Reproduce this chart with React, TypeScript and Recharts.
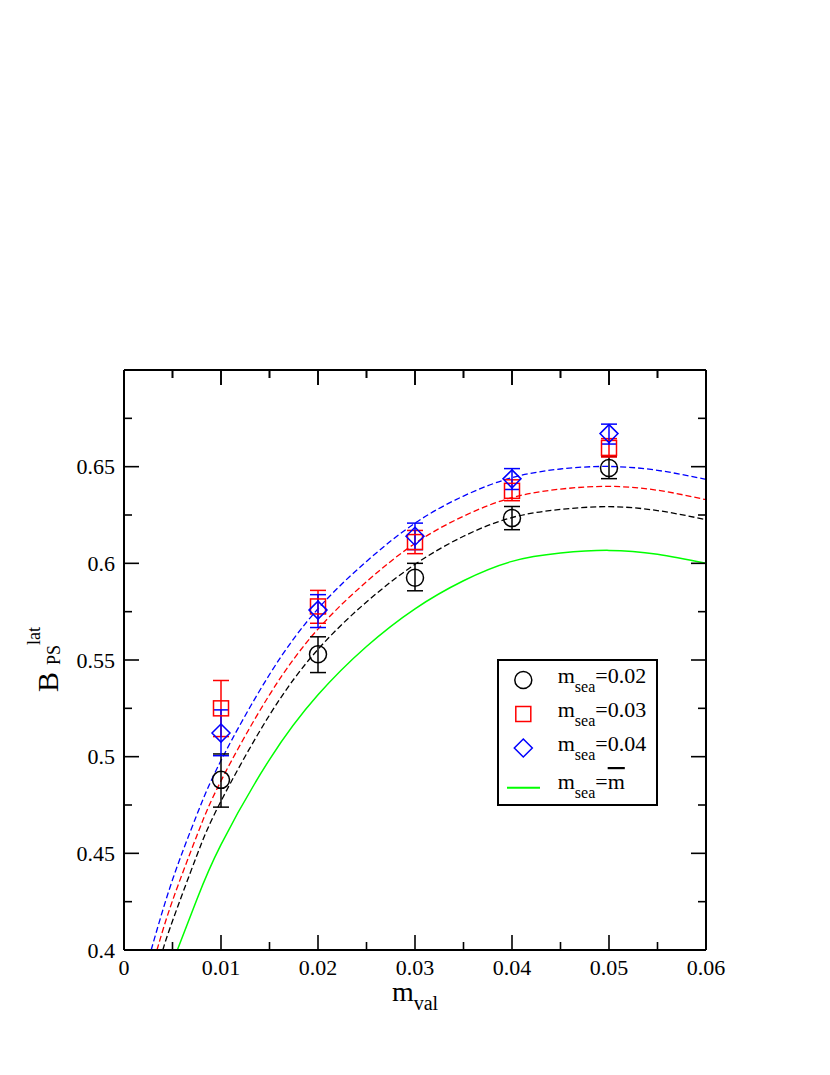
import React from 'react';
import { ComposedChart, Line, Scatter, XAxis, YAxis, ErrorBar, Legend, Label } from 'recharts';

const FONT = '"Liberation Serif", "Times New Roman", Times, serif';

// ---- layout constants (plot frame) ----
const PLOT_TOP = 370;
const PLOT_LEFT = 124;
const PLOT_W = 582;
const X_DOMAIN: [number, number] = [0, 0.06];
const Y_DOMAIN: [number, number] = [0.4, 0.7];

// ---- ticks ----
const xTicks = [0, 0.005, 0.01, 0.015, 0.02, 0.025, 0.03, 0.035, 0.04, 0.045, 0.05, 0.055, 0.06];
const xTickLabels = ['0', '', '0.01', '', '0.02', '', '0.03', '', '0.04', '', '0.05', '', '0.06'];
const yTicks = [0.4, 0.425, 0.45, 0.475, 0.5, 0.525, 0.55, 0.575, 0.6, 0.625, 0.65, 0.675, 0.7];
const yTickLabels = ['0.4', '', '0.45', '', '0.5', '', '0.55', '', '0.6', '', '0.65', '', ''];

// ---- data points ----
const mVal = [0.01, 0.02, 0.03, 0.04, 0.05];

const sea002 = [0.488, 0.553, 0.5925, 0.6234, 0.6493];
const sea002ErrLo = [0.0141, 0.0095, 0.0067, 0.006, 0.0055];
const sea002ErrHi = [0.0134, 0.009, 0.0075, 0.006, 0.006];

const sea003 = [0.525, 0.5777, 0.611, 0.6375, 0.6597];
const sea003ErrLo = [0.0146, 0.0087, 0.006, 0.0051, 0.0047];
const sea003ErrHi = [0.0144, 0.0083, 0.006, 0.0057, 0.0048];

const sea004 = [0.5122, 0.5758, 0.614, 0.6437, 0.6671];
const sea004ErrLo = [0.0117, 0.009, 0.0069, 0.0055, 0.0054];
const sea004ErrHi = [0.012, 0.008, 0.0068, 0.0053, 0.0049];

// ---- fit curves ----
const fitX002 = [0.004, 0.005, 0.0075, 0.01, 0.015, 0.02, 0.025, 0.03, 0.035, 0.04, 0.045, 0.05, 0.055, 0.06];
const fitY002 = [0.4, 0.415, 0.4488, 0.477, 0.5215, 0.5555, 0.58, 0.5995, 0.614, 0.6237, 0.6279, 0.6293, 0.6273, 0.6226];

const fitX003 = [0.0034, 0.005, 0.0075, 0.01, 0.015, 0.02, 0.025, 0.03, 0.035, 0.04, 0.045, 0.05, 0.055, 0.06];
const fitY003 = [0.4, 0.4255, 0.459, 0.4875, 0.532, 0.566, 0.5905, 0.6103, 0.6244, 0.634, 0.6384, 0.6398, 0.6378, 0.6329];

const fitX004 = [0.0028, 0.005, 0.0075, 0.01, 0.015, 0.02, 0.025, 0.03, 0.035, 0.04, 0.045, 0.05, 0.055, 0.06];
const fitY004 = [0.4, 0.4363, 0.4698, 0.498, 0.5425, 0.5765, 0.601, 0.6208, 0.6348, 0.6443, 0.6488, 0.6501, 0.6481, 0.6434];

const fitXbar = [0.0055, 0.0075, 0.01, 0.015, 0.02, 0.025, 0.03, 0.035, 0.04, 0.045, 0.05, 0.055, 0.06];
const fitYbar = [0.4, 0.426, 0.4545, 0.4985, 0.532, 0.557, 0.5765, 0.591, 0.601, 0.6053, 0.6067, 0.6047, 0.6];

const seaLabels = ['0.02', '0.03', '0.04'];

const BLACK = '#000000';
const RED = '#ff0000';
const BLUE = '#0000ff';
const GREEN = '#00ff00';

const toPts = (ys: number[], lo: number[], hi: number[]) =>
  mVal.map((x, i) => ({ x, y: ys[i], err: [lo[i], hi[i]] }));
const toCurve = (xs: number[], ys: number[]) => xs.map((x, i) => ({ x, y: ys[i] }));

const pts002 = toPts(sea002, sea002ErrLo, sea002ErrHi);
const pts003 = toPts(sea003, sea003ErrLo, sea003ErrHi);
const pts004 = toPts(sea004, sea004ErrLo, sea004ErrHi);
const curve002 = toCurve(fitX002, fitY002);
const curve003 = toCurve(fitX003, fitY003);
const curve004 = toCurve(fitX004, fitY004);
const curveBar = toCurve(fitXbar, fitYbar);

// ---- symbols ----
const CircleSym = (cx: number, cy: number, color: string) => (
  <circle cx={cx} cy={cy} r={8.5} fill="none" stroke={color} strokeWidth={1.5} />
);
const SquareSym = (cx: number, cy: number, color: string) => (
  <rect x={cx - 7.5} y={cy - 7.5} width={15} height={15} fill="none" stroke={color} strokeWidth={1.5} />
);
const DiamondSym = (cx: number, cy: number, color: string) => (
  <path d={`M${cx},${cy - 9}L${cx + 9},${cy}L${cx},${cy + 9}L${cx - 9},${cy}Z`} fill="none" stroke={color} strokeWidth={1.5} />
);

// ---- ticks ----
const tickIndex = (arr: number[], v: number) => {
  let best = 0;
  arr.forEach((t, i) => {
    if (Math.abs(t - v) < Math.abs(arr[best] - v)) best = i;
  });
  return best;
};
const tickLen = (i: number) => (i % 2 === 0 ? 15 : 8);

const BottomTick = (props: any) => {
  const { x, y, payload } = props;
  const i = tickIndex(xTicks, payload.value);
  const len = tickLen(i);
  return (
    <g>
      <path d={`M${x},${y}V${y - len}`} stroke="#000" strokeWidth={1.6} fill="none" />
      <path d={`M${x},${PLOT_TOP}V${PLOT_TOP + len}`} stroke="#000" strokeWidth={1.6} fill="none" />
      {xTickLabels[i] ? (
        <text x={x} y={y + 25} textAnchor="middle" fontSize={22} fontFamily={FONT} fill="#000">
          {xTickLabels[i]}
        </text>
      ) : null}
    </g>
  );
};

const LeftTick = (props: any) => {
  const { x, y, payload } = props;
  const i = tickIndex(yTicks, payload.value);
  return (
    <g>
      <line x1={x} y1={y} x2={x + tickLen(i)} y2={y} stroke="#000" strokeWidth={1.6} />
      {yTickLabels[i] ? (
        <text x={x - 9} y={y + 7.5} textAnchor="end" fontSize={22} fontFamily={FONT} fill="#000">
          {yTickLabels[i]}
        </text>
      ) : null}
    </g>
  );
};

const RightTick = (props: any) => {
  const { x, y, payload } = props;
  const i = tickIndex(yTicks, payload.value);
  return <line x1={x} y1={y} x2={x - tickLen(i)} y2={y} stroke="#000" strokeWidth={1.6} />;
};

const XLabel = () => (
  <text x={415} y={1001} textAnchor="middle" fontSize={28} fontFamily={FONT} fill="#000">
    m
    <tspan fontSize={20} dy={9}>val</tspan>
  </text>
);

const YLabel = () => (
  <text x={58} y={692} transform="rotate(-90, 58, 692)" fontSize={30} fontFamily={FONT} fill="#000">
    B
    <tspan fontSize={18} dx={7} dy={2}>PS</tspan>
    <tspan fontSize={18} dy={-20}>lat</tspan>
  </text>
);

const LegendBox = () => {
  const rows = [21, 55, 89];
  const syms = [CircleSym, SquareSym, DiamondSym];
  const cols = [BLACK, RED, BLUE];
  return (
    <svg width={161} height={147} style={{ display: 'block', overflow: 'visible' }}>
      <rect x={1} y={1} width={159} height={145} fill="#fff" stroke="#000" strokeWidth={2} />
      {seaLabels.map((lab, k) => (
        <g key={lab}>
          {syms[k](26.3, rows[k], cols[k])}
          <text x={60.7} y={rows[k] + 3} fontSize={22} fontFamily={FONT} fill="#000">
            m
            <tspan fontSize={16} dy={9}>sea</tspan>
            <tspan dy={-9}>={lab}</tspan>
          </text>
        </g>
      ))}
      <line x1={10} x2={43} y1={128.7} y2={128.7} stroke={GREEN} strokeWidth={2} />
      <text x={60.7} y={130} fontSize={22} fontFamily={FONT} fill="#000">
        m
        <tspan fontSize={16} dy={9}>sea</tspan>
        <tspan dy={-9}>=</tspan>
        <tspan style={{ textDecoration: 'overline' }}>m</tspan>
      </text>
    </svg>
  );
};

// mirrored top-frame ticks, laid over the chart
const TopFrameTicks = () => (
  <svg
    width={830}
    height={1075}
    style={{ position: 'absolute', left: 0, top: 0, pointerEvents: 'none' }}
  >
    {xTicks.map((t, i) => {
      const x = PLOT_LEFT + ((t - X_DOMAIN[0]) / (X_DOMAIN[1] - X_DOMAIN[0])) * PLOT_W;
      return <path key={i} d={`M${x},${PLOT_TOP}V${PLOT_TOP + tickLen(i)}`} stroke="#000" strokeWidth={1.6} fill="none" />;
    })}
  </svg>
);

const axisCommon = {
  type: 'number' as const,
  interval: 0 as const,
  tickSize: 0,
  tickMargin: 0,
  tickLine: false,
  axisLine: { stroke: '#000', strokeWidth: 2 },
};

export default function App() {
  return (
    <div style={{ position: 'absolute', left: 0, top: 0, width: 830, height: 1075, background: '#fff' }}>
      <ComposedChart width={830} height={1075} margin={{ top: 340, right: 64, bottom: 95, left: 64 }}>
        <XAxis xAxisId="b" dataKey="x" orientation="bottom" domain={X_DOMAIN} ticks={xTicks} height={30} tick={BottomTick} {...axisCommon}>
          <Label content={XLabel} />
        </XAxis>
        <XAxis xAxisId="t" dataKey="x" orientation="top" domain={X_DOMAIN} ticks={xTicks} height={30} {...axisCommon} tick={false} />
        <YAxis yAxisId="l" dataKey="y" orientation="left" domain={Y_DOMAIN} ticks={yTicks} width={60} tick={LeftTick} {...axisCommon}>
          <Label content={YLabel} />
        </YAxis>
        <YAxis yAxisId="r" dataKey="y" orientation="right" domain={Y_DOMAIN} ticks={yTicks} width={60} tick={RightTick} {...axisCommon} />

        {/* invisible series so the mirrored top/right axes have an associated item */}
        <Scatter data={pts002} dataKey="y" xAxisId="t" yAxisId="r" isAnimationActive={false} legendType="none" shape={() => <g />} />

        <Line data={curveBar} dataKey="y" xAxisId="b" yAxisId="l" type="natural" stroke={GREEN} strokeWidth={1.5} dot={false} isAnimationActive={false} legendType="none" />
        <Line data={curve002} dataKey="y" xAxisId="b" yAxisId="l" type="natural" stroke={BLACK} strokeWidth={1.3} strokeDasharray="6 3" dot={false} isAnimationActive={false} legendType="none" />
        <Line data={curve003} dataKey="y" xAxisId="b" yAxisId="l" type="natural" stroke={RED} strokeWidth={1.3} strokeDasharray="6 3" dot={false} isAnimationActive={false} legendType="none" />
        <Line data={curve004} dataKey="y" xAxisId="b" yAxisId="l" type="natural" stroke={BLUE} strokeWidth={1.3} strokeDasharray="6 3" dot={false} isAnimationActive={false} legendType="none" />

        <Scatter data={pts002} dataKey="y" xAxisId="b" yAxisId="l" isAnimationActive={false}
          shape={(p: any) => CircleSym(p.cx, p.cy, BLACK)}>
          <ErrorBar dataKey="err" direction="y" width={8} stroke={BLACK} strokeWidth={1.5} isAnimationActive={false} />
        </Scatter>
        <Scatter data={pts003} dataKey="y" xAxisId="b" yAxisId="l" isAnimationActive={false}
          shape={(p: any) => SquareSym(p.cx, p.cy, RED)}>
          <ErrorBar dataKey="err" direction="y" width={8} stroke={RED} strokeWidth={1.5} isAnimationActive={false} />
        </Scatter>
        <Scatter data={pts004} dataKey="y" xAxisId="b" yAxisId="l" isAnimationActive={false}
          shape={(p: any) => DiamondSym(p.cx, p.cy, BLUE)}>
          <ErrorBar dataKey="err" direction="y" width={8} stroke={BLUE} strokeWidth={1.5} isAnimationActive={false} />
        </Scatter>

        <Legend
          layout="vertical"
          align="center"
          verticalAlign="middle"
          content={LegendBox}
          wrapperStyle={{ left: 497, top: 659, width: 161, height: 147 }}
        />
      </ComposedChart>
      <TopFrameTicks />
    </div>
  );
}
